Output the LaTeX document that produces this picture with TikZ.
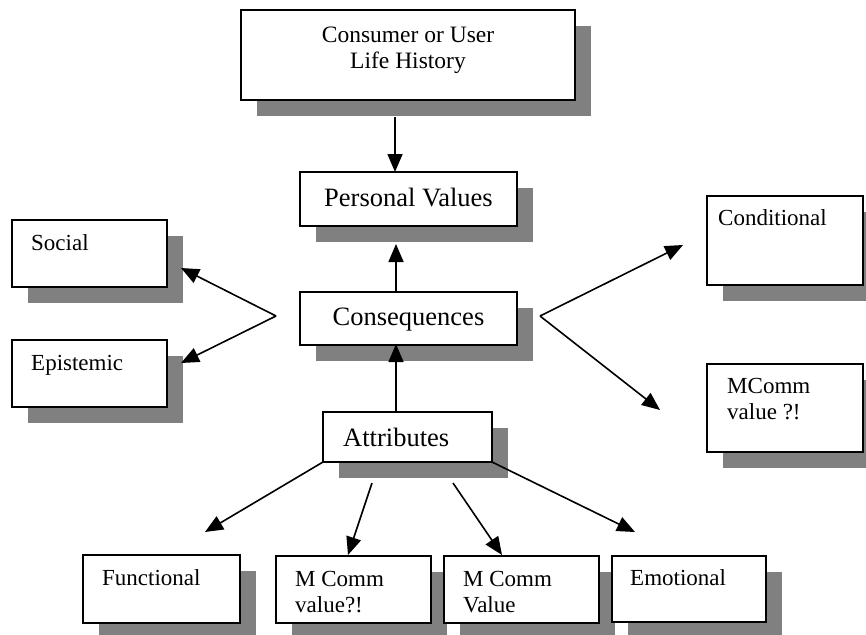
\documentclass[tikz,border=0pt]{standalone}
\usepackage{fontspec}
\setmainfont{Liberation Serif}
\usetikzlibrary{arrows.meta,shadows}
\definecolor{shadowgray}{RGB}{128,128,128}
\tikzset{
  mainbox/.style={draw=black, fill=white, line width=1.8pt, inner sep=0pt, outer sep=0pt,
    drop shadow={shadow xshift=16pt, shadow yshift=-16pt, opacity=1, fill=shadowgray}},
  smalltext/.style={font=\fontsize{23}{26}\selectfont, inner sep=0pt, anchor=base west, align=left},
  toptext/.style={font=\fontsize{23.5}{26}\selectfont, inner sep=0pt, anchor=base, align=center},
  bigtext/.style={font=\fontsize{26.5}{30}\selectfont, inner sep=0pt, anchor=base},
  arr/.style={line width=1.6pt, -{Triangle[length=18pt,width=15pt]}}
}
\begin{document}
\begin{tikzpicture}[x=1pt,y=-1pt]
\clip (0,0) rectangle (866,634);
\fill[white] (0,0) rectangle (866,634);
% boxes
\node[mainbox, minimum width=334pt, minimum height=90pt] (top) at (408,55) {};
\node[mainbox, minimum width=217pt, minimum height=54pt] (pv) at (408.5,199) {};
\node[mainbox, minimum width=217pt, minimum height=53pt] (cq) at (408.5,318.5) {};
\node[mainbox, minimum width=169pt, minimum height=50pt] (at) at (407.5,437) {};
\node[mainbox, minimum width=155pt, minimum height=67pt] (soc) at (89.5,253.5) {};
\node[mainbox, minimum width=155pt, minimum height=67pt] (epi) at (89.5,373.5) {};
\node[mainbox, minimum width=156pt, minimum height=89pt] (cond) at (785,240.5) {};
\node[mainbox, minimum width=156pt, minimum height=88pt] (mcr) at (785,408) {};
\node[mainbox, minimum width=157pt, minimum height=68pt] (fun) at (161.5,589) {};
\node[mainbox, minimum width=155pt, minimum height=67pt] (mcv1) at (353.5,589.5) {};
\node[mainbox, minimum width=155pt, minimum height=67pt] (mcv2) at (521.5,589.5) {};
\node[mainbox, minimum width=154pt, minimum height=66pt] (emo) at (689,589) {};
% texts (multi-line nodes: base = last line)
\node[toptext] (topT) at (408,68) {Consumer or User\\Life History};
\node[bigtext] (pvT) at (408.5,206) {Personal Values};
\node[bigtext] (cqT) at (408.5,325) {Consequences};
\node[bigtext, anchor=base west] (atT) at (343,446) {Attributes};
\node[smalltext] (socT) at (31,250) {Social};
\node[smalltext] (epiT) at (31,370) {Epistemic};
\node[smalltext] (condT) at (718,225) {Conditional};
\node[smalltext] (mcrT) at (727,419) {MComm\\value ?!};
\node[smalltext] (funT) at (102,585) {Functional};
\node[smalltext] (mcv1T) at (295,612) {M Comm\\value?!};
\node[smalltext] (mcv2T) at (463,612) {M Comm\\Value};
\node[smalltext] (emoT) at (630,585) {Emotional};
% connector ends
\coordinate (topS) at (395,117);
\coordinate (pvN) at (395,172);
\coordinate (cqN) at (396,292);
\coordinate (pvS) at (396,244);
\coordinate (atN) at (396,412);
\coordinate (cqS) at (396,344);
\coordinate (vl) at (276,316);
\coordinate (socTip) at (181,268);
\coordinate (epiTip) at (181,363);
\coordinate (vr) at (540,316);
\coordinate (condTip) at (683,245);
\coordinate (mcrTip) at (660,410);
\coordinate (funTip) at (205,532);
\coordinate (m1s) at (372,483);
\coordinate (m1Tip) at (348,555);
\coordinate (m2s) at (453,483);
\coordinate (m2Tip) at (502,555);
\coordinate (emoTip) at (635,532);
% connectors
\draw[arr] (topS) -- (pvN);
\draw[arr] (cqN) -- (pvS);
\draw[arr] (atN) -- (cqS);
\draw[arr] (vl) -- (socTip);
\draw[arr] (vl) -- (epiTip);
\draw[arr] (vr) -- (condTip);
\draw[arr] (vr) -- (mcrTip);
\draw[arr] (at.south west) -- (funTip);
\draw[arr] (m1s) -- (m1Tip);
\draw[arr] (m2s) -- (m2Tip);
\draw[arr] (at.south east) -- (emoTip);
\end{tikzpicture}
\end{document}
